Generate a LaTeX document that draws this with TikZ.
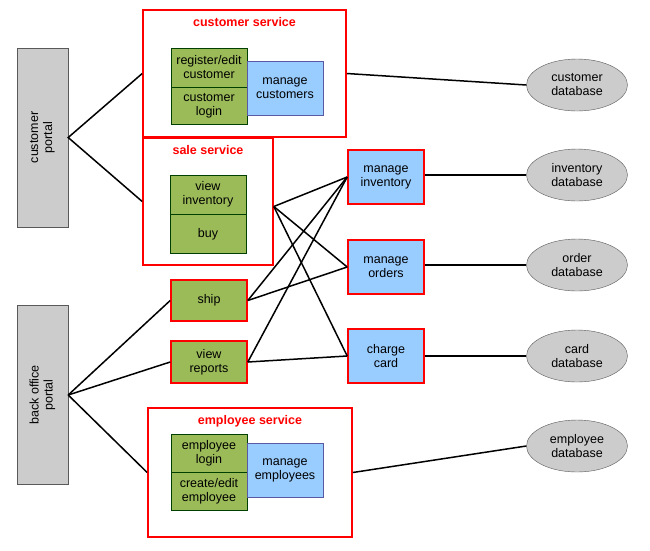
\documentclass[tikz,border=0pt]{standalone}
\usepackage{fontspec}
\setmainfont{Liberation Sans}
\usetikzlibrary{positioning,shapes.geometric}
\definecolor{boxgray}{HTML}{CCCCCC}
\definecolor{uigreen}{HTML}{9BBB59}
\definecolor{mgrblue}{HTML}{99CCFF}
\definecolor{svcred}{HTML}{FF0000}

\begin{document}
\begin{tikzpicture}[x = 1pt, y = -1pt, font = \fontsize{12.5}{14}\selectfont,
  portal/.style = {draw = gray!70!black, fill = boxgray, rotate = 90, minimum width = 179pt, minimum height = 51pt, align = center, inner sep = 0pt},
  svcbox/.style = {draw = svcred, line width = 1.6pt, inner sep = 0pt},
  svctitle/.style = {text = svcred, font = \fontsize{12.5}{14}\selectfont\bfseries},
  uibox/.style = {draw = green!25!black, fill = uigreen, minimum width = 76pt, align = center, inner sep = 2pt},
  mgrbox/.style = {draw = blue!30!gray, fill = mgrblue, minimum width = 76pt, minimum height = 54pt, align = center, inner sep = 2pt},
  dbase/.style = {ellipse, draw = gray!70!black, fill = boxgray, minimum width = 101pt, minimum height = 52pt, align = center, inner sep = 0pt},
  link/.style = {line width = 1.5pt}]
\useasboundingbox (0,0) rectangle (650,550);
% portals (rotated, so .south is the right side)
\node[portal] (cportal) at (42.5,137.5) {customer\\portal};
\node[portal] (bportal) at (42.5,395) {back office\\portal};
% services
\node[svcbox, minimum width = 203pt, minimum height = 127pt] (custsvc) at (244.5,73.5) {};
\node[svctitle] (custtitle) at (244.5,22.5) {customer service};
\node[uibox, minimum height = 39pt] (regcust) at (209,67.5) {register/edit\\customer};
\node[uibox, minimum height = 37pt, below = 0pt of regcust] (custlogin) {customer\\login};
\node[mgrbox] (mngcust) at (285,88) {manage\\customers};
\node[svcbox, minimum width = 130pt, minimum height = 127pt] (salesvc) at (208,201.5) {};
\node[svctitle] (saletitle) at (208,150.5) {sale service};
\node[uibox, minimum height = 39pt] (viewinv) at (208,194.5) {view\\inventory};
\node[uibox, minimum height = 39pt, below = 0pt of viewinv] (buy) {buy};
\node[uibox, draw = svcred, line width = 1.6pt, minimum height = 41pt] (ship) at (209,300.5) {ship};
\node[uibox, draw = svcred, line width = 1.6pt, minimum height = 42pt] (viewrep) at (209,362) {view\\reports};
\node[svcbox, minimum width = 204pt, minimum height = 129pt] (empsvc) at (250,472.5) {};
\node[svctitle] (emptitle) at (250,421.5) {employee service};
\node[uibox, minimum height = 38pt] (emplogin) at (209,453) {employee\\login};
\node[uibox, minimum height = 38pt, below = 0pt of emplogin] (editemp) {create/edit\\employee};
\node[mgrbox] (mngemp) at (285,470) {manage\\employees};
\node[mgrbox, draw = svcred, line width = 1.6pt] (mnginv) at (386,177) {manage\\inventory};
\node[mgrbox, draw = svcred, line width = 1.6pt] (mngord) at (386,267) {manage\\orders};
\node[mgrbox, draw = svcred, line width = 1.6pt] (chgcard) at (386,356) {charge\\card};
% databases
\node[dbase] (custdb) at (577,85) {customer\\database};
\node[dbase] (invdb) at (577,175) {inventory\\database};
\node[dbase] (orddb) at (577,265) {order\\database};
\node[dbase] (carddb) at (577,356) {card\\database};
\node[dbase] (empdb) at (577,446) {employee\\database};
% links
\draw[link] (custsvc.west) -- (cportal.south) -- (salesvc.west);
\foreach \t in {ship, viewrep, empsvc} \draw[link] (bportal.south) -- (\t.west);
\coordinate (saleout) at ([yshift = -5pt]salesvc.east);
\foreach \t in {mnginv, mngord, chgcard} \draw[link] (saleout) -- (\t.west);
\foreach \t in {mnginv, mngord} \draw[link] (ship.east) -- (\t.west);
\foreach \t in {mnginv, chgcard} \draw[link] (viewrep.east) -- (\t.west);
\draw[link] (custsvc.east) -- (custdb.west);
\draw[link] (invdb.west -| mnginv.east) -- (invdb.west);
\draw[link] (orddb.west -| mngord.east) -- (orddb.west);
\draw[link] (carddb.west -| chgcard.east) -- (carddb.west);
\draw[link] (empsvc.east) -- (empdb.west);
\end{tikzpicture}
\end{document}
